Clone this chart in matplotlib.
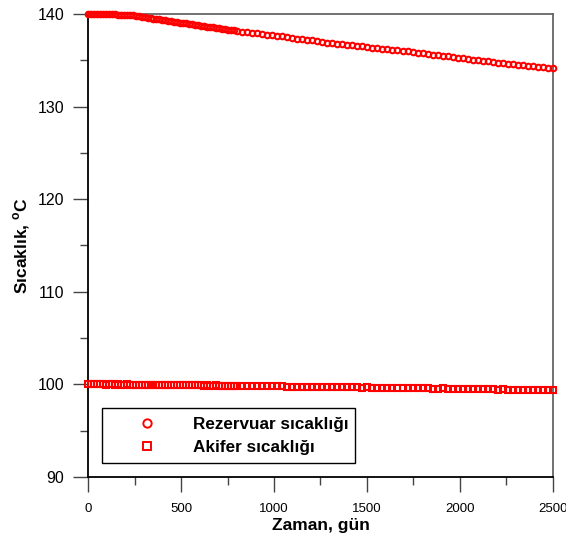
import matplotlib
matplotlib.use('Agg')
import matplotlib.pyplot as plt
from matplotlib.lines import Line2D
from matplotlib.ticker import MultipleLocator

plt.rcParams['font.family'] = 'Liberation Sans'
plt.rcParams['mathtext.fontset'] = 'custom'
plt.rcParams['mathtext.bf'] = 'Liberation Sans:bold'

# time (days) of each plotted point
zaman = [0, 16, 32, 48, 64, 80, 96, 112, 128, 144,
         160, 176, 192, 208, 224, 240, 256, 272, 288, 304,
         320, 336, 352, 368, 384, 400, 416, 432, 448, 464,
         480, 496, 512, 528, 544, 560, 576, 592, 608, 624,
         640, 656, 672, 688, 704, 720, 736, 752, 768, 784,
         800,
         827, 854, 881, 908, 935, 962, 989, 1016, 1043, 1070,
         1097, 1124, 1151, 1178, 1205, 1232, 1259, 1286, 1313, 1340,
         1367, 1394, 1421, 1448, 1475, 1502, 1529, 1556, 1583, 1610,
         1637, 1664, 1691, 1718, 1745, 1772, 1799, 1826, 1853, 1880,
         1907, 1934, 1961, 1988, 2015, 2042, 2069, 2096, 2123, 2150,
         2177, 2204, 2231, 2258, 2285, 2312, 2339, 2366, 2393, 2420,
         2447, 2474, 2500]

rezervuar = [140.00, 140.00, 139.99, 139.99, 139.98, 139.97, 139.97, 139.96, 139.95, 139.95,
             139.94, 139.92, 139.91, 139.89, 139.87, 139.84, 139.80, 139.75, 139.70, 139.65,
             139.61, 139.56, 139.51, 139.46, 139.41, 139.37, 139.32, 139.27, 139.22, 139.17,
             139.12, 139.08, 139.03, 138.98, 138.93, 138.88, 138.84, 138.79, 138.74, 138.69,
             138.64, 138.60, 138.55, 138.50, 138.46, 138.41, 138.36, 138.31, 138.27, 138.22,
             138.18,
             138.10, 138.04, 137.97, 137.90, 137.84, 137.76, 137.70, 137.62, 137.57, 137.48,
             137.43, 137.34, 137.28, 137.20, 137.14, 137.05, 136.98, 136.92, 136.86, 136.80,
             136.73, 136.68, 136.62, 136.55, 136.50, 136.44, 136.37, 136.32, 136.26, 136.20,
             136.14, 136.08, 136.03, 135.95, 135.89, 135.82, 135.75, 135.70, 135.62, 135.55,
             135.50, 135.42, 135.36, 135.28, 135.22, 135.15, 135.08, 135.00, 134.95, 134.88,
             134.83, 134.76, 134.71, 134.64, 134.59, 134.53, 134.47, 134.42, 134.36, 134.31,
             134.25, 134.18, 134.12]

akifer = [100.00, 100.00, 99.99, 100.01, 99.99, 100.00, 99.98, 100.01, 99.99, 99.98,
          100.00, 99.98, 99.97, 99.99, 99.97, 99.96, 99.98, 99.96, 99.95, 99.97,
          99.95, 99.94, 99.96, 99.94, 99.93, 99.95, 99.93, 99.92, 99.94, 99.92,
          99.91, 99.93, 99.91, 99.90, 99.92, 99.90, 99.89, 99.91, 99.89, 99.88,
          99.90, 99.88, 99.87, 99.89, 99.87, 99.86, 99.88, 99.86, 99.85, 99.87,
          99.85,
          99.84, 99.83, 99.84, 99.81, 99.80, 99.82, 99.79, 99.78, 99.80, 99.76,
          99.77, 99.75, 99.74, 99.77, 99.73, 99.72, 99.74, 99.71, 99.70, 99.73,
          99.69, 99.68, 99.70, 99.67, 99.66, 99.69, 99.65, 99.64, 99.66, 99.62,
          99.61, 99.64, 99.60, 99.59, 99.61, 99.57, 99.56, 99.58, 99.55, 99.54,
          99.56, 99.52, 99.51, 99.53, 99.50, 99.49, 99.51, 99.47, 99.46, 99.48,
          99.45, 99.44, 99.46, 99.42, 99.41, 99.43, 99.40, 99.41, 99.39, 99.38,
          99.40, 99.37, 99.38]

etiketler = ['Rezervuar sıcaklığı', 'Akifer sıcaklığı']

fig = plt.figure(figsize=(5.66, 5.38), dpi=100)
ax = fig.add_axes([0.1555, 0.1134, 0.8215, 0.8606])

ax.plot(zaman, rezervuar, 'o', ms=4.0, mfc='none', mec='red', mew=1.5, clip_on=False, zorder=3)
ax.plot(zaman, akifer, 's', ms=3.7, mfc='none', mec='red', mew=1.5, clip_on=False, zorder=3)

ax.set_xlim(0, 2500)
ax.set_ylim(90, 140)
ax.xaxis.set_major_locator(MultipleLocator(500))
ax.xaxis.set_minor_locator(MultipleLocator(250))
ax.yaxis.set_major_locator(MultipleLocator(10))
ax.yaxis.set_minor_locator(MultipleLocator(5))
ax.tick_params(which='major', direction='out', length=11, width=1, color='#444444')
ax.tick_params(which='minor', direction='out', length=5.5, width=1, color='#444444')
ax.tick_params(axis='x', labelsize=9.5, pad=8)
ax.tick_params(axis='y', labelsize=11.5, pad=6)
ax.tick_params(top=False, right=False)

for s in ['left', 'bottom']:
    ax.spines[s].set_color('black')
    ax.spines[s].set_linewidth(1.3)
for s in ['top', 'right']:
    ax.spines[s].set_color('#666666')
    ax.spines[s].set_linewidth(1.3)

ax.set_xlabel('Zaman, gün', fontsize=12.5, fontweight='bold', labelpad=2)
ax.set_ylabel(r'Sıcaklık, $^{\mathbf{o}}$C', fontsize=12.5, fontweight='bold', labelpad=4)

tutamaclar = [
    Line2D([], [], ls='none', marker='o', ms=6, mfc='none', mec='red', mew=1.4),
    Line2D([], [], ls='none', marker='s', ms=6, mfc='none', mec='red', mew=1.4),
]
leg = ax.legend(tutamaclar, etiketler, loc='lower left',
                bbox_to_anchor=(0.03, 0.03, 0.544, 0.121), mode='expand',
                borderaxespad=0, borderpad=0.5, handlelength=4.3, handletextpad=0.5,
                labelspacing=0.46, fancybox=False, framealpha=1,
                prop={'weight': 'bold', 'size': 12.3})
leg.get_frame().set_edgecolor('black')
leg.get_frame().set_linewidth(1.0)

fig.savefig('out.png', dpi=100)
